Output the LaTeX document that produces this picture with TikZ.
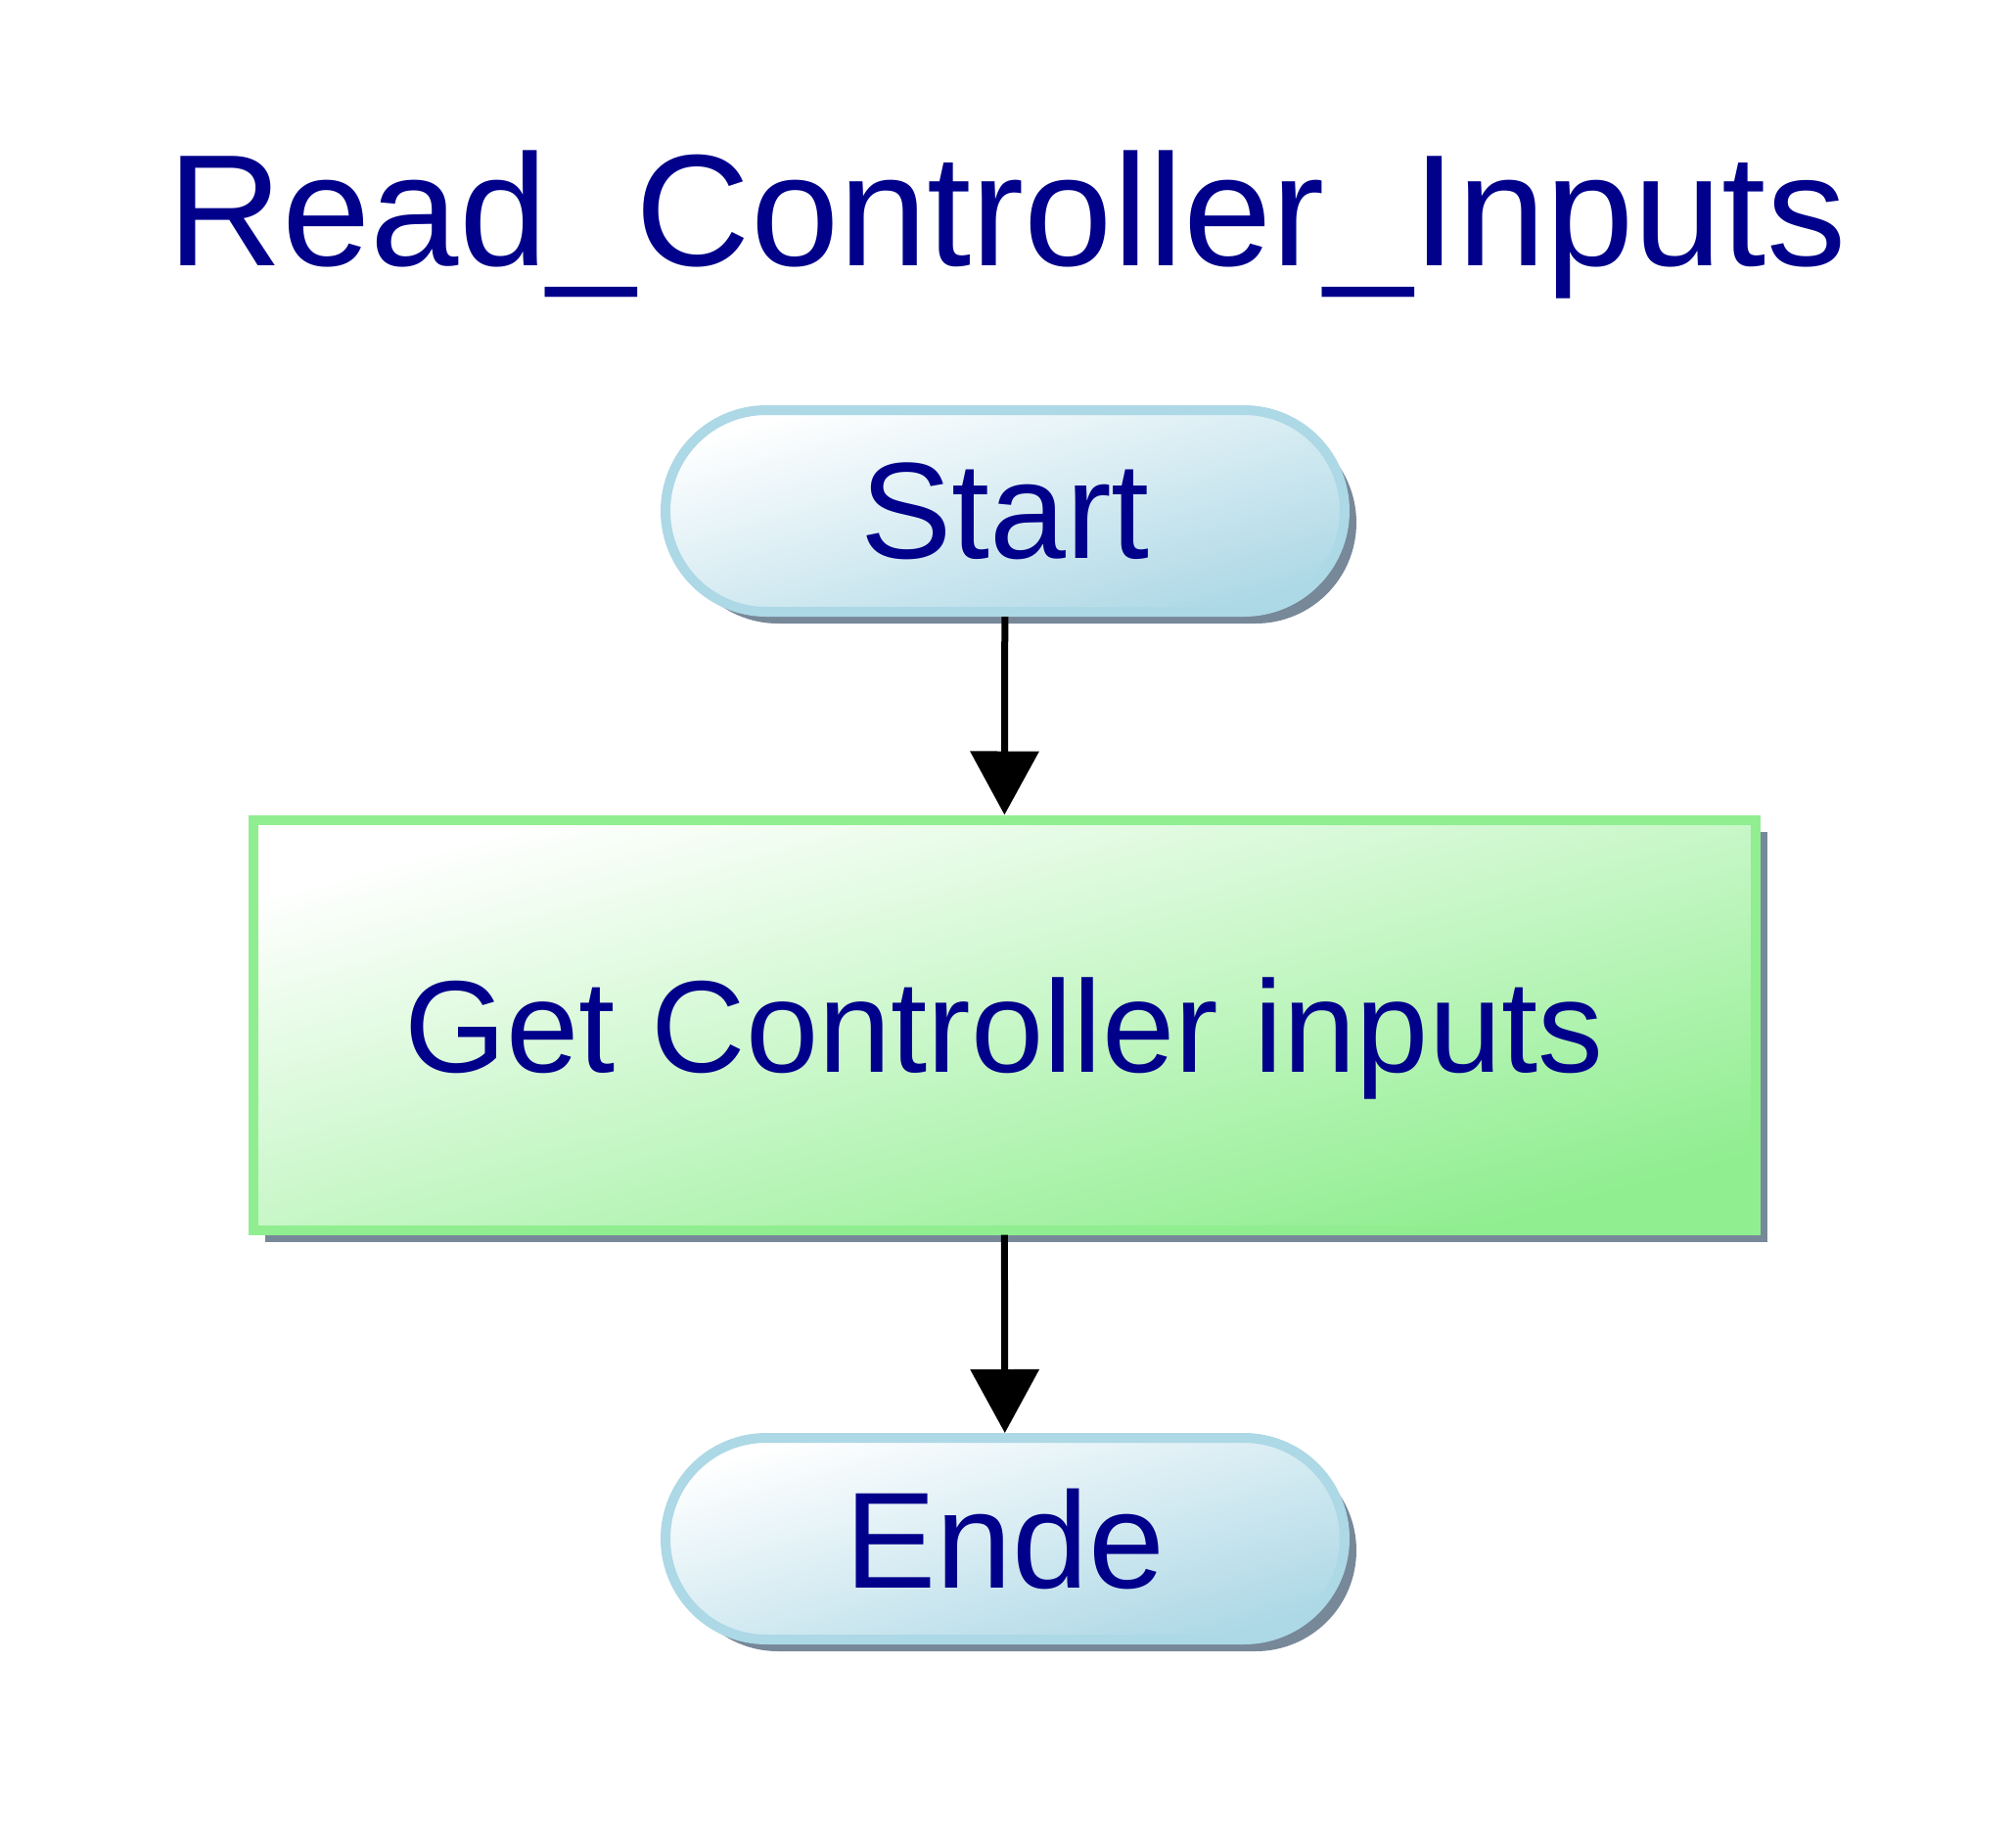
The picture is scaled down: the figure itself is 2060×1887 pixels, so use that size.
\documentclass[tikz,border=0pt]{standalone}
\usepackage{fontspec}
\setmainfont{Liberation Sans}
\usepackage{xcolor}
\usepackage{tikz}
\usetikzlibrary{arrows.meta, shadows}
\definecolor{labelblue}{HTML}{00008B}
\definecolor{termblue}{HTML}{ADD8E6}
\definecolor{taskgreen}{HTML}{90EE90}
\definecolor{shadowgray}{HTML}{778899}

\begin{document}
\begin{tikzpicture}[x=0.25pt, y=-0.25pt,
  terminal/.style={draw=termblue, line width=2.5pt, rounded corners=25.75pt,
    minimum width=173.5pt, minimum height=51.5pt, inner sep=0pt,
    top color=white, bottom color=termblue, shading angle=16,
    drop shadow={shadow xshift=3pt, shadow yshift=-3pt, fill=shadowgray, opacity=1},
    font=\fontsize{35}{42}\selectfont, text=labelblue},
  taskbox/.style={draw=taskgreen, line width=2.5pt,
    minimum width=383.75pt, minimum height=104.75pt, inner sep=0pt, text depth=0pt,
    top color=white, bottom color=taskgreen, shading angle=15,
    drop shadow={shadow xshift=3pt, shadow yshift=-3pt, fill=shadowgray, opacity=1},
    font=\fontsize{33.4}{40}\selectfont, text=labelblue},
  flow/.style={line width=1.75pt, -{Triangle[length=16.25pt, width=17.25pt]}}]
 \useasboundingbox (0,0) rectangle (2060,1887);

 \node[anchor=base, font=\fontsize{40.6}{48}\selectfont, text=labelblue] (title) at (1029,271) {Read\_Controller\_Inputs};

 \node[terminal] (start) at (1027,522) {Start};
 \node[taskbox] (inputs) at (1026,1047) {Get Controller inputs};
 \node[terminal] (ende) at (1027,1572) {Ende};

 %flow
 \draw[flow] (start) -- (inputs);
 \draw[flow] (inputs) -- (ende);
\end{tikzpicture}
\end{document}
